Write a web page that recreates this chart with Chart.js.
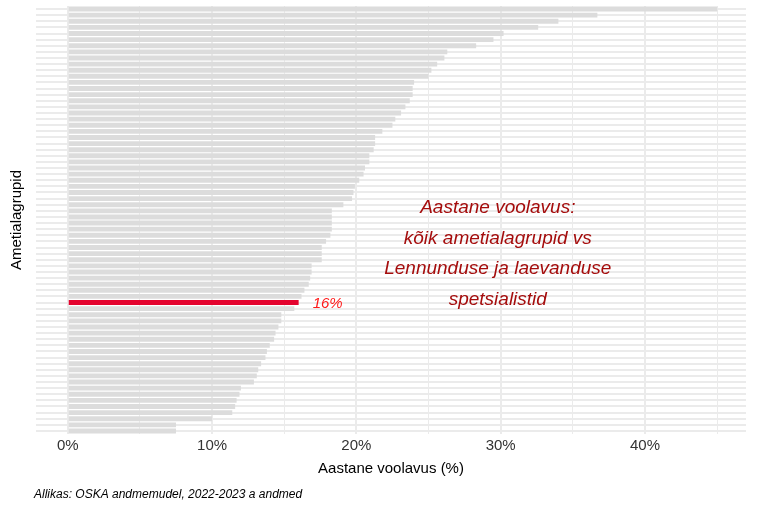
<!DOCTYPE html>
<html><head><meta charset="utf-8">
<script src="https://cdn.jsdelivr.net/npm/chart.js@4/dist/chart.umd.min.js"></script>
<style>html,body{margin:0;padding:0;background:#fff}</style>
</head><body><canvas id="c" width="768" height="512"></canvas>
<script>
const values = [45,36.7,34,32.6,30.2,29.5,28.3,26.3,26.1,25.6,25.2,25.0,24.0,23.9,23.9,23.7,23.4,23.1,22.7,22.5,21.8,21.3,21.3,21.2,20.9,20.9,20.6,20.5,20.2,19.9,19.8,19.7,19.1,18.3,
18.3,18.3,18.3,18.2,17.9,17.6,17.6,17.6,16.9,16.9,16.8,16.7,16.4,16.2,16.0,15.7,14.8,14.8,14.6,14.4,14.3,14.0,13.8,13.7,13.4,13.2,13.1,12.9,12.0,11.9,11.7,11.6,11.4,10.0,7.5,7.5];
const categories = values.map((v,i)=>'Ametialagrupp '+(i+1));
const xTicks = [0,5,10,15,20,25,30,35,40,45];
const highlightIndex = 48;
const highlightLabel = '16%';
const annotationLines = ['Aastane voolavus:','kõik ametialagrupid vs','Lennunduse ja laevanduse','spetsialistid'];
const caption = 'Allikas: OSKA andmemudel, 2022-2023 a andmed';

const overlay = {
  id:'overlay',
  afterDatasetsDraw(chart){
    const {ctx, scales:{x,y}} = chart;
    ctx.save();
    ctx.font = 'italic 15px "Liberation Sans", Arial';
    ctx.fillStyle = '#ff1a1a';
    ctx.textBaseline = 'middle';
    ctx.textAlign = 'left';
    ctx.fillText(highlightLabel, x.getPixelForValue(values[highlightIndex]) + 14, y.getPixelForValue(highlightIndex)+1);
    ctx.font = 'italic 19px "Liberation Sans", Arial';
    ctx.fillStyle = '#a50d0d';
    ctx.textAlign = 'center';
    annotationLines.forEach((t,i)=>ctx.fillText(t, x.getPixelForValue(29.8), 208 + i*30.5));
    ctx.font = 'italic 12px "Liberation Sans", Arial';
    ctx.fillStyle = '#000';
    ctx.textAlign = 'left';
    ctx.fillText(caption, 34, 495);
    ctx.restore();
  }
};

new Chart(document.getElementById('c'), {
  type:'bar',
  data:{labels:categories, datasets:[{
    data:values,
    backgroundColor: values.map((v,i)=> i===highlightIndex ? '#e4032e' : '#dcdcdc'),
    barPercentage: 0.8, categoryPercentage: 1
  }]},
  options:{
    indexAxis:'y', responsive:false, animation:false, devicePixelRatio:1,
    layout:{padding:{top:6,right:22,bottom:30,left:4}},
    plugins:{legend:{display:false}, tooltip:{enabled:false}},
    scales:{
      x:{min:-2.2,max:47,
        border:{display:false},
        afterBuildTicks:s=>{s.ticks = xTicks.map(v=>({value:v}));},
        ticks:{autoSkip:false, maxRotation:0, color:'#333', font:{size:15,family:'"Liberation Sans", Arial'},
          callback:v=> v%10===0 ? v+'%' : ''},
        grid:{color:'#ebebeb', drawTicks:false,
          lineWidth:c=>{const v=c.tick?c.tick.value:0; return v%10===0?2:1;}},
        title:{display:true,text:'Aastane voolavus (%)',color:'#000',font:{size:15,family:'"Liberation Sans", Arial'},padding:{top:2}}
      },
      y:{border:{display:false},
        ticks:{display:false},
        grid:{color:'#ebebeb', lineWidth:2, offset:false, drawTicks:false},
        title:{display:true,text:'Ametialagrupid',color:'#000',font:{size:15,family:'"Liberation Sans", Arial'},padding:{bottom:10}}
      }
    }
  },
  plugins:[overlay]
});
</script>
</body></html>
